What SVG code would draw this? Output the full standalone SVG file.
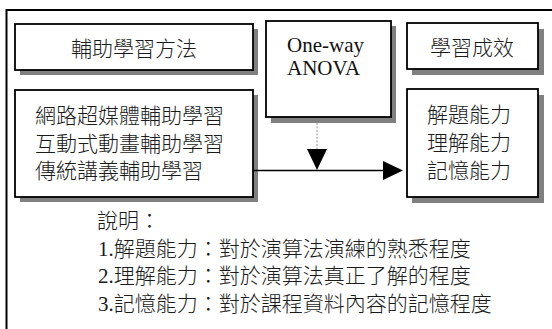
<svg xmlns="http://www.w3.org/2000/svg" width="552" height="329" viewBox="0 0 552 329">
<style>
.box{fill:#fff;stroke:#000;stroke-width:1.8}
.sh{fill:#808080}
.cjk{font-family:"Liberation Serif","Noto Sans CJK TC",serif;font-size:21px;font-weight:300;fill:#1a1a1a}
.lat{font-family:"Liberation Serif",serif;font-size:21px;fill:#111}
</style>
<rect width="552" height="329" fill="#fff"/>
<g id="frame" fill="none" stroke="#000" stroke-width="2">
<path d="M6.5 329 V10 H552"/>
</g>
<g id="methods-title">
<rect class="sh" x="20" y="29" width="238" height="46"/>
<rect class="box" x="15" y="24" width="238" height="46"/>
<text class="cjk" x="134" y="55.5" text-anchor="middle">輔助學習方法</text>
</g>
<g id="methods">
<rect class="sh" x="20" y="95" width="238" height="107"/>
<rect class="box" x="15" y="90" width="238" height="107"/>
<text class="cjk" x="35" y="123">網路超媒體輔助學習</text>
<text class="cjk" x="35" y="151">互動式動畫輔助學習</text>
<text class="cjk" x="35" y="178">傳統講義輔助學習</text>
</g>
<g id="anova">
<rect class="sh" x="271" y="26" width="125" height="97"/>
<rect class="box" x="266" y="21" width="125" height="96"/>
<text class="lat" x="287" y="52">One-way</text>
<text class="lat" x="287" y="75">ANOVA</text>
</g>
<g id="outcome-title">
<rect class="sh" x="412" y="29" width="132" height="46"/>
<rect class="box" x="407" y="23" width="131" height="46"/>
<text class="cjk" x="472" y="55" text-anchor="middle">學習成效</text>
</g>
<g id="outcomes">
<rect class="sh" x="412" y="95" width="132" height="108"/>
<rect class="box" x="407" y="89" width="131" height="108"/>
<text class="cjk" x="427" y="122">解題能力</text>
<text class="cjk" x="427" y="150">理解能力</text>
<text class="cjk" x="427" y="178">記憶能力</text>
</g>
<g id="connectors">
<line x1="317" y1="123" x2="317" y2="150" stroke="#777" stroke-width="0.8" stroke-dasharray="2,1.5"/>
<polygon points="307,149 327,149 317,170" fill="#000"/>
<line x1="253" y1="170.5" x2="385" y2="170.5" stroke="#000" stroke-width="1.6"/>
<polygon points="383,161 403,170.5 383,180" fill="#000"/>
</g>
<g id="notes">
<text class="cjk" x="97" y="228">說明：</text>
<text class="cjk" x="98" y="255.5">1.解題能力：對於演算法演練的熟悉程度</text>
<text class="cjk" x="98" y="283">2.理解能力：對於演算法真正了解的程度</text>
<text class="cjk" x="98" y="310.5">3.記憶能力：對於課程資料內容的記憶程度</text>
</g>
</svg>
